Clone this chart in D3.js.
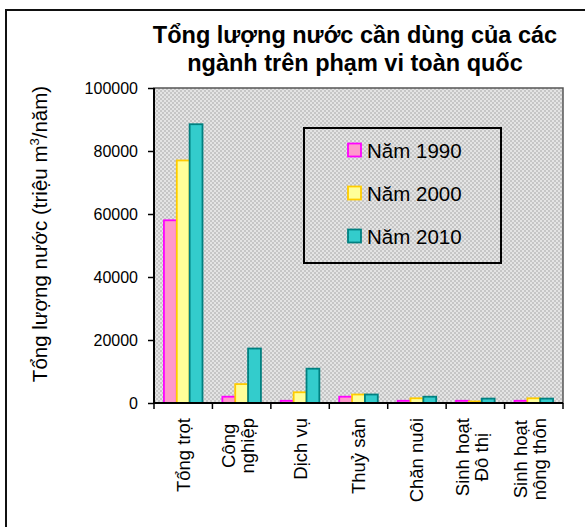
<!DOCTYPE html>
<html>
<head>
<meta charset="utf-8">
<script src="https://cdn.jsdelivr.net/npm/d3@7"></script>
<style>
  html, body { margin: 0; padding: 0; background: #fff; }
  svg { display: block; font-family: "Liberation Sans", Arial, sans-serif; }
</style>
</head>
<body>
<script>
const width = 585;
const height = 527;

// data (million m3 / year)
const categories = [
  ["Tổng trọt"],
  ["Công", "nghiệp"],
  ["Dịch vụ"],
  ["Thuỷ sản"],
  ["Chăn nuôi"],
  ["Sinh hoạt", "Đô thị"],
  ["Sinh hoạt", "nông thôn"]
];
const seriesNames = ["Năm 1990", "Năm 2000", "Năm 2010"];
const v1990 = [58000, 2000, 700, 2000, 700, 700, 700];
const v2000 = [77000, 6000, 3400, 2700, 1500, 500, 1500];
const v2010 = [88500, 17300, 10900, 2700, 2000, 1400, 1400];
const yTicks = [0, 20000, 40000, 60000, 80000, 100000];

const fills = ["#ff99cc", "#ffff99", "#33cccc"];
const strokes = ["#ff00ff", "#ffcc00", "#008080"];

const margin = { top: 88, right: 22, bottom: 124, left: 154 };

const svg = d3.select('body').append('svg')
  .attr('width', width)
  .attr('height', height);

// dotted grey fill used by the plot area and legend
const defs = svg.append('defs');
const pat = defs.append('pattern')
  .attr('id', 'dots')
  .attr('width', 4).attr('height', 4)
  .attr('patternUnits', 'userSpaceOnUse');
pat.append('rect').attr('width', 4).attr('height', 4).attr('fill', '#c6c6c6');
pat.append('rect').attr('x', 0).attr('y', 0).attr('width', 2).attr('height', 2).attr('fill', '#e4e4e4');
pat.append('rect').attr('x', 2).attr('y', 2).attr('width', 2).attr('height', 2).attr('fill', '#e4e4e4');

// outer frame (runs off the image on right and bottom)
svg.append('rect')
  .attr('x', 6).attr('y', 10)
  .attr('width', width + 20).attr('height', height + 20)
  .attr('fill', 'white')
  .attr('stroke', '#111')
  .attr('stroke-width', 2);

// SCALES
const x0 = d3.scaleBand()
  .domain(d3.range(categories.length))
  .range([margin.left, width - margin.right])
  .paddingInner(0.34)
  .paddingOuter(0.17);

const x1 = d3.scaleBand()
  .domain(d3.range(seriesNames.length))
  .range([0, x0.bandwidth()]);

const y = d3.scaleLinear()
  .domain([0, 100000])
  .range([height - margin.bottom, margin.top]);

const plotL = margin.left, plotR = width - margin.right;
const plotT = margin.top, plotB = height - margin.bottom;

// plot background
svg.append('rect')
  .attr('x', plotL).attr('y', plotT)
  .attr('width', plotR - plotL).attr('height', plotB - plotT)
  .attr('fill', 'url(#dots)')
  .attr('stroke', '#555')
  .attr('stroke-width', 1.5);

// BARS
const allSeries = [v1990, v2000, v2010];
const rows = categories.map((c, i) => allSeries.map((s, j) => ({ cat: i, s: j, value: s[i] })));

svg.append('g').selectAll('g')
  .data(rows)
  .join('g')
  .attr('transform', (d, i) => `translate(${x0(i)},0)`)
  .selectAll('rect')
  .data(d => d)
  .join('rect')
  .attr('x', d => x1(d.s))
  .attr('y', d => y(d.value))
  .attr('width', x1.bandwidth())
  .attr('height', d => y(0) - y(d.value))
  .attr('fill', d => fills[d.s])
  .attr('stroke', d => strokes[d.s])
  .attr('stroke-width', 1.8);

// AXES
const yAxis = d3.axisLeft(y)
  .tickValues(yTicks)
  .tickSize(6)
  .tickPadding(10)
  .tickFormat(d3.format('d'));

const gy = svg.append('g')
  .attr('transform', `translate(${plotL},0)`)
  .call(yAxis);
gy.select('.domain').attr('stroke', '#000').attr('stroke-width', 2).attr('d', `M0,${plotT}V${plotB}`);
gy.selectAll('.tick line').attr('stroke', '#000').attr('stroke-width', 1.5);
gy.selectAll('.tick text')
  .attr('font-size', 16)
  .attr('fill', '#000')
  .attr('font-family', '"Liberation Sans", Arial, sans-serif');

// x axis: baseline and ticks at the category boundaries
const step = x0.step();
const xStart = plotL;
svg.append('line')
  .attr('x1', plotL).attr('x2', plotR)
  .attr('y1', plotB).attr('y2', plotB)
  .attr('stroke', '#000').attr('stroke-width', 2);
svg.append('g').selectAll('line')
  .data(d3.range(categories.length + 1))
  .join('line')
  .attr('x1', i => xStart + i * step)
  .attr('x2', i => xStart + i * step)
  .attr('y1', plotB).attr('y2', plotB + 6)
  .attr('stroke', '#000').attr('stroke-width', 1.5);

// rotated category labels
const labelTop = plotB + 15;
const labelFont = 18.5;
const lab = svg.append('g').selectAll('g')
  .data(categories)
  .join('g');

lab.each(function (lines, i) {
  const cx = x0(i) + x0.bandwidth() / 2;
  const g = d3.select(this);
  const offs = lines.length === 1 ? [6.5] : [-6.5, 12.5];
  const texts = lines.map((t, k) => g.append('text')
    .attr('font-size', labelFont)
    .attr('text-anchor', 'middle')
    .attr('fill', '#000')
    .text(t));
  const maxLen = d3.max(texts, t => t.node().getComputedTextLength());
  const cy = labelTop + maxLen / 2;
  texts.forEach((t, k) => {
    t.attr('transform', `translate(${cx + offs[k]},${cy}) rotate(-90)`);
  });
});

// y axis title
const yTitle = svg.append('text')
  .attr('transform', `translate(47,234) rotate(-90)`)
  .attr('text-anchor', 'middle')
  .attr('font-size', 20.5)
  .attr('fill', '#000');
yTitle.append('tspan').text('Tổng lượng nước (triệu m');
yTitle.append('tspan').attr('font-size', 13).attr('dy', -8).text('3');
yTitle.append('tspan').attr('dy', 8).text('/năm)');

// chart title
const titleLines = ["Tổng lượng nước cần dùng của các", "ngành trên phạm vi toàn quốc"];
svg.append('g').selectAll('text')
  .data(titleLines)
  .join('text')
  .attr('x', 355)
  .attr('y', (d, i) => 43 + i * 28)
  .attr('text-anchor', 'middle')
  .attr('font-size', 23.5)
  .attr('font-weight', 'bold')
  .attr('fill', '#000')
  .text(d => d);

// LEGEND
const legend = svg.append('g');
legend.append('rect')
  .attr('x', 304).attr('y', 128)
  .attr('width', 197).attr('height', 135)
  .attr('fill', 'url(#dots)')
  .attr('stroke', '#000')
  .attr('stroke-width', 2);

const legendRows = legend.selectAll('g.item')
  .data(seriesNames)
  .join('g')
  .classed('item', true)
  .attr('transform', (d, i) => `translate(348,${150 + i * 43})`);

legendRows.append('rect')
  .attr('x', 0).attr('y', -6.5)
  .attr('width', 13).attr('height', 13)
  .attr('fill', (d, i) => fills[i])
  .attr('stroke', (d, i) => strokes[i])
  .attr('stroke-width', 1.8);

legendRows.append('text')
  .attr('x', 19).attr('y', 7.5)
  .attr('font-size', 20.5)
  .attr('fill', '#000')
  .text(d => d);
</script>
</body>
</html>
